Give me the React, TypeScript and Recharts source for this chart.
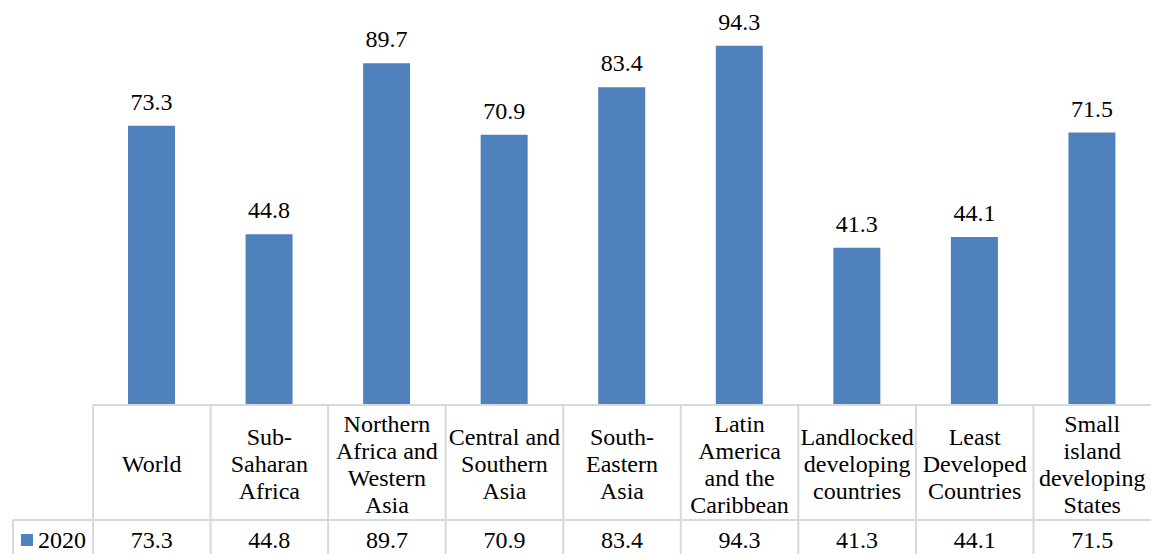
import { BarChart, Bar, XAxis, YAxis, LabelList } from "recharts"

const categories = [
  "World",
  "Sub-Saharan Africa",
  "Northern Africa and Western Asia",
  "Central and Southern Asia",
  "South-Eastern Asia",
  "Latin America and the Caribbean",
  "Landlocked developing countries",
  "Least Developed Countries",
  "Small island developing States",
]

const tickLines = [
  ["World"],
  ["Sub-", "Saharan", "Africa"],
  ["Northern", "Africa and", "Western", "Asia"],
  ["Central and", "Southern", "Asia"],
  ["South-", "Eastern", "Asia"],
  ["Latin", "America", "and the", "Caribbean"],
  ["Landlocked", "developing", "countries"],
  ["Least", "Developed", "Countries"],
  ["Small", "island", "developing", "States"],
]

const values2020 = [73.3, 44.8, 89.7, 70.9, 83.4, 94.3, 41.3, 44.1, 71.5]

const seriesName = "2020"

const data = categories.map((name, i) => ({ name, value: values2020[i] }))

const FONT = "Liberation Serif"
const FS = 24
const W = 1151
const H = 554
const LEFT = 93
const PLOT_BOTTOM = 405
const ROW_SPLIT = 520
const GRID = "#d9d9d9"

function TableTick(props: any) {
  const { x, payload, index } = props
  const i = payload?.index ?? index
  const colW = (W - LEFT) / categories.length
  const lines = tickLines[i] || [payload.value]
  const lh = 27
  const startY = 464 - ((lines.length - 1) * lh) / 2
  return (
    <g>
      {i === 0 && (
        <g>
          <line x1={LEFT} y1={PLOT_BOTTOM} x2={W} y2={PLOT_BOTTOM} stroke={GRID} strokeWidth={2} />
          <line x1={13} y1={ROW_SPLIT} x2={W} y2={ROW_SPLIT} stroke={GRID} strokeWidth={2} />
          <line x1={13} y1={ROW_SPLIT} x2={13} y2={H} stroke={GRID} strokeWidth={2} />
          <rect x={21} y={534} width={12} height={12} fill="#4f81bd" />
          <text x={38} y={548} fontFamily={FONT} fontSize={FS} fill="#000">
            {seriesName}
          </text>
        </g>
      )}
      <line x1={x - colW / 2} y1={PLOT_BOTTOM} x2={x - colW / 2} y2={H} stroke={GRID} strokeWidth={2} />
      {lines.map((t: string, k: number) => (
        <text key={k} x={x} y={startY + k * lh + 8} textAnchor="middle" fontFamily={FONT} fontSize={FS} fill="#000">
          {t}
        </text>
      ))}
      <text x={x} y={548} textAnchor="middle" fontFamily={FONT} fontSize={FS} fill="#000">
        {values2020[i].toFixed(1)}
      </text>
    </g>
  )
}

export default function App() {
  return (
    <div style={{ width: W, height: H, background: "#fff" }}>
      <style>{"body{margin:0}"}</style>
      <BarChart
        width={W}
        height={H}
        data={data}
        margin={{ top: 24, right: 0, left: LEFT, bottom: 0 }}
      >
        <YAxis hide domain={[0, 100]} />
        <XAxis
          dataKey="name"
          height={H - PLOT_BOTTOM}
          axisLine={false}
          tickLine={false}
          interval={0}
          tick={<TableTick />}
        />
        <Bar dataKey="value" fill="#4f81bd" barSize={47} isAnimationActive={false}>
          <LabelList
            dataKey="value"
            position="top"
            offset={16}
            formatter={(v: any) => Number(v).toFixed(1)}
            style={{ fontFamily: FONT, fontSize: FS, fill: "#000" }}
          />
        </Bar>
      </BarChart>
    </div>
  )
}
